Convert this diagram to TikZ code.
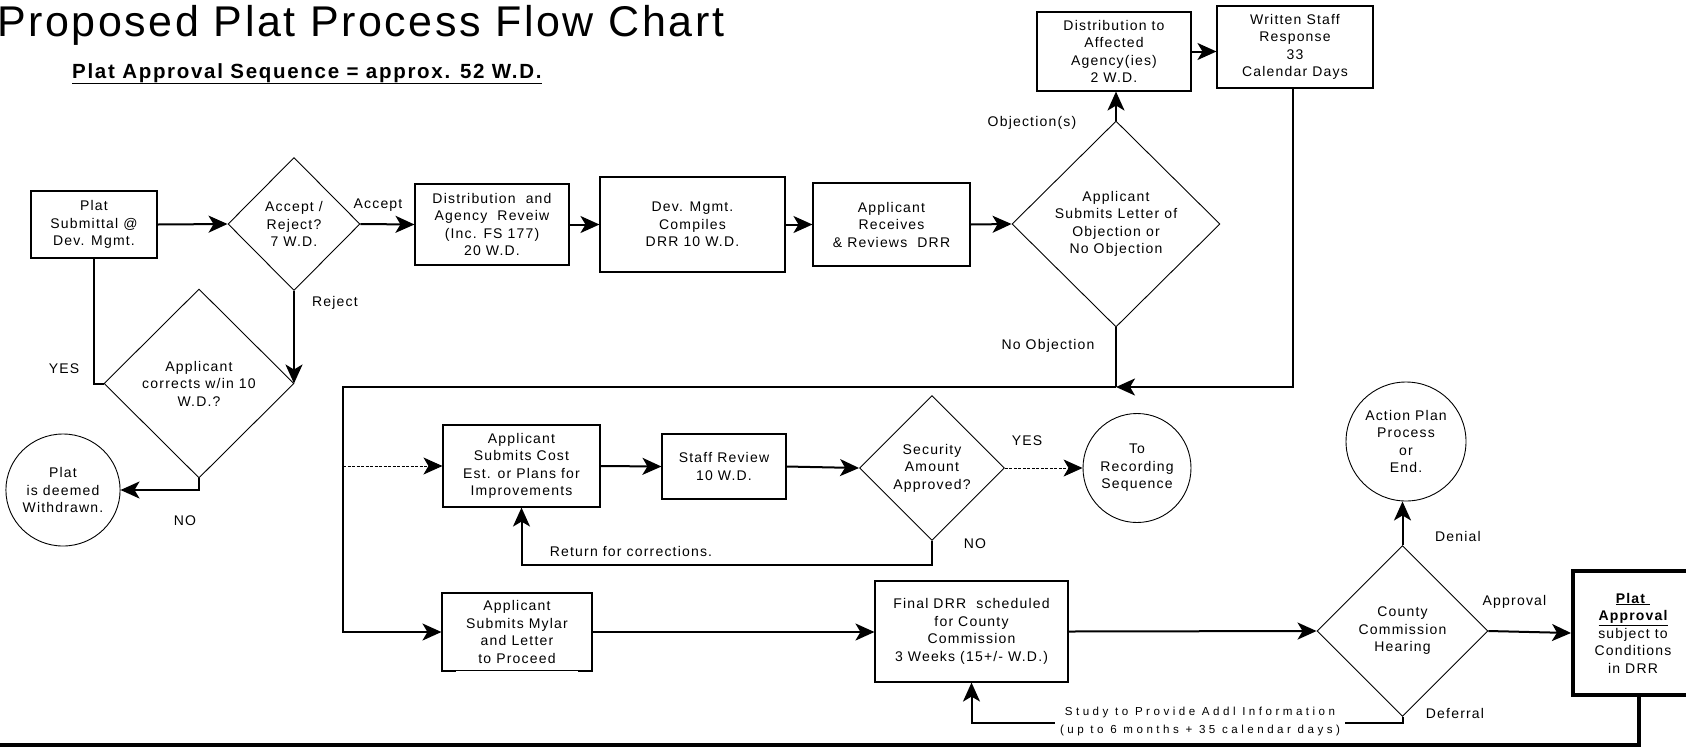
\documentclass[tikz,border=0pt]{standalone}
\usepackage{fontspec}
\setmainfont{Liberation Sans}[LetterSpace=8.5]
\usetikzlibrary{shapes.geometric,arrows.meta}
\begin{document}
\begin{tikzpicture}[x=1pt,y=-1pt,
  every node/.style={inner sep=0pt, align=center, font=\fontsize{14}{17.5}\selectfont},
  bx/.style={draw, rectangle, line width=1.1pt},
  dia/.style={draw, diamond, line width=0.9pt},
  circ/.style={draw, ellipse, line width=0.9pt},
  conn/.style={line width=2pt},
  arr/.style={conn, -{Stealth[length=19pt,width=17pt,inset=5pt]}},
  dsh/.style={line width=0.9pt, dash pattern=on 3pt off 1.5pt, -{Stealth[length=19pt,width=17pt,inset=5pt]}}
]
\useasboundingbox (0,0) rectangle (1686,748);

\node[anchor=base west, font=\fontsize{43}{50}\selectfont\addfontfeatures{LetterSpace=6}] (title) at (-3,36) {Proposed Plat Process Flow Chart};
\node[anchor=base west, font=\bfseries\fontsize{20.5}{24}\selectfont\addfontfeatures{LetterSpace=8.3}] (sub) at (72,78) {\underline{Plat Approval Sequence = approx. 52 W.D.}};

\node[bx, minimum width=126pt, minimum height=67pt] (plat) at (94,224.5) {Plat\\Submittal @\\Dev. Mgmt.};
\node[dia, minimum width=132pt, minimum height=133pt] (acc) at (294,224) {Accept /\\Reject?\\7 W.D.};
\node[bx, minimum width=154pt, minimum height=81pt] (dist) at (492,224.5) {Distribution~ and\\Agency~ Reveiw\\(Inc. FS 177)\\20 W.D.};
\node[bx, minimum width=185pt, minimum height=95pt] (dev) at (692.5,224.5) {Dev. Mgmt.\\Compiles\\DRR 10 W.D.};
\node[bx, minimum width=157pt, minimum height=83pt] (recv) at (891.5,224.5) {Applicant\\Receives\\\& Reviews~ DRR};
\node[dia, minimum width=208pt, minimum height=206pt] (obj) at (1116,224) {Applicant\\Submits Letter of\\Objection or\\No Objection};
\node[bx, minimum width=154pt, minimum height=79pt] (aff) at (1114,51.5) {Distribution to\\Affected\\Agency(ies)\\2 W.D.};
\node[bx, minimum width=156pt, minimum height=82pt] (wsr) at (1295,47) {Written Staff\\Response\\33\\Calendar Days};
\node[dia, minimum width=190pt, minimum height=189pt] (cor) at (199,383.5) {Applicant\\corrects w/in 10\\W.D.?};
\node[circ, minimum width=110pt, minimum height=112pt] (wd) at (63,490) {Plat\\is deemed\\Withdrawn.};
\node[bx, minimum width=157pt, minimum height=82pt] (cost) at (521.5,466) {Applicant\\Submits Cost\\Est. or Plans for\\Improvements};
\node[bx, minimum width=124pt, minimum height=65pt] (staff) at (724,466.5) {Staff Review\\10 W.D.};
\node[dia, minimum width=145pt, minimum height=145pt] (sec) at (932,468) {Security\\Amount\\Approved?};
\node[circ, minimum width=108pt, minimum height=109pt] (rec) at (1137,468) {To\\Recording\\Sequence};
\node[bx, minimum width=150pt, minimum height=78pt] (mylar) at (517,632) {Applicant\\Submits Mylar\\and Letter\\to Proceed};
\node[bx, minimum width=193pt, minimum height=101pt] (final) at (971.5,631.5) {Final DRR~ scheduled\\for County\\Commission\\3 Weeks (15+/- W.D.)};
\node[dia, minimum width=171pt, minimum height=171pt] (cty) at (1402.5,631) {County\\Commission\\Hearing};
\node[circ, minimum width=120pt, minimum height=119pt] (act) at (1406,441.5) {Action Plan\\Process\\or\\End.};
\node[bx, line width=4pt, minimum width=120pt, minimum height=124pt] (pa) at (1633,633) {\textbf{\underline{Plat\ }}\\\textbf{\underline{Approval}}\\subject to\\Conditions\\in DRR};

\coordinate (j1) at (1116,387);
\coordinate (lc) at (343,387);
\coordinate (dl) at (343,466);
\coordinate (bl) at (-5,745);

\draw[arr] (plat.east) -- (acc.west);
\draw[arr] (acc.east) -- (dist.west);
\draw[arr] (dist.east) -- (dev.west);
\draw[arr] (dev.east) -- (recv.west);
\draw[arr] (recv.east) -- (obj.west);
\draw[arr] (obj.north) -- (obj.north |- aff.south);
\draw[arr] (aff.east) -- (aff.east -| wsr.west);
\draw[arr] ([xshift=-2pt]wsr.south) |- (j1);
\draw[conn] (obj.south) -- (j1);
\draw[arr] (j1) -- (lc) |- (mylar.west);
\draw[dsh] (dl) -- (cost.west);
\draw[arr] (cost.east) -- (staff.west);
\draw[arr] (staff.east) -- (sec.west);
\draw[dsh] (sec.east) -- (rec.west);
\draw[arr] (sec.south) -- ++(0,24) -| (cost.south);
\draw[arr] (mylar.east) -- (mylar.east -| final.west);
\draw[arr] (final.east) -- (cty.west);
\draw[arr] (cty.north) -- (cty.north |- act.south);
\draw[arr] (cty.east) -- (pa.west);
\draw[arr] (cty.south) -- ++(0,6) -| (final.south);
\node[fill=white, inner xsep=5pt, inner ysep=1pt, font=\fontsize{11.6}{18}\selectfont\addfontfeatures{LetterSpace=30}] (study) at (1200,721) {Study to Provide Addl Information\\(up to 6 months + 35 calendar days)};
\draw[line width=3.3pt] ([xshift=6pt]pa.south) |- (bl);
\draw[conn] (plat.south) |- (cor.west);
\draw[arr] (acc.south) -- (acc.south |- cor.east);
\draw[arr] (cor.south) |- (wd.east);
\draw[white, line width=2pt] ([xshift=15pt]mylar.south west) -- ([xshift=-15pt]mylar.south east);

\node (lacc) at (378,205) {Accept};
\node (lrej) at (335,303) {Reject};
\node (lyes1) at (64,369) {YES};
\node (lno1) at (185,521) {NO};
\node (lobj) at (1032,123) {Objection(s)};
\node (lnoobj) at (1048,346) {No Objection};
\node (lyes2) at (1027,441) {YES};
\node (lno2) at (975,544) {NO};
\node (lret) at (631,551) {Return for corrections.};
\node (lden) at (1458,536) {Denial};
\node (lapp) at (1514.5,602) {Approval};
\node (ldef) at (1455,713) {Deferral};
\end{tikzpicture}
\end{document}
